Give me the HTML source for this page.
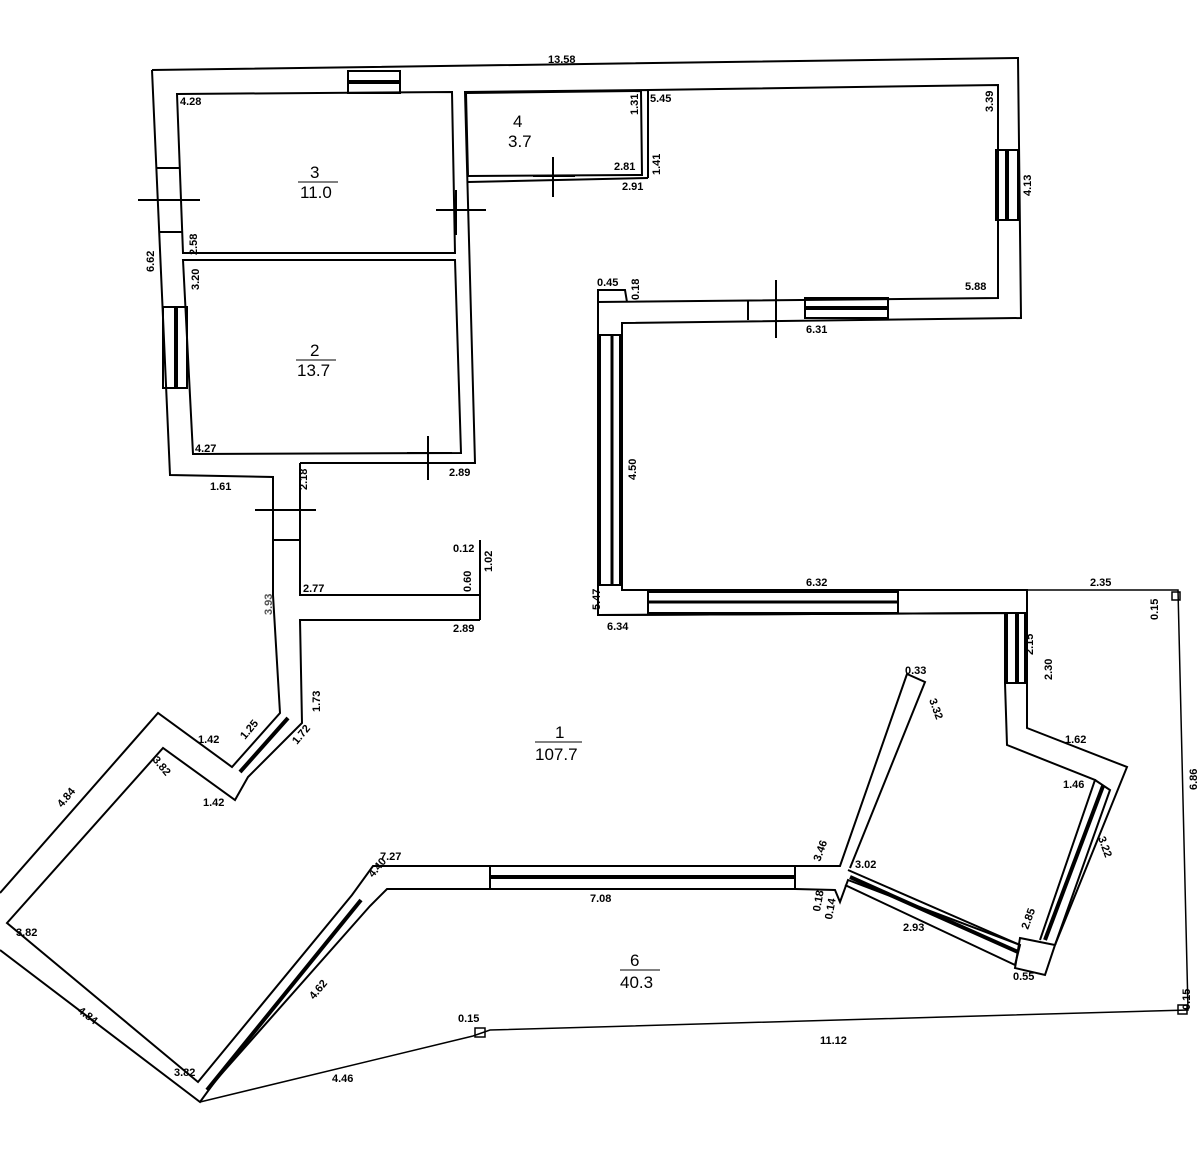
<!DOCTYPE html>
<html><head><meta charset="utf-8"><style>
html,body{margin:0;padding:0;background:#fff;}
svg{display:block}
text{font-family:"Liberation Sans",sans-serif;font-size:11px;font-weight:bold;fill:#000}
.b{font-size:17px;font-weight:normal}
</style></head><body>
<svg width="1200" height="1171" viewBox="0 0 1200 1171" xmlns="http://www.w3.org/2000/svg">
<g fill="none" stroke="#000" stroke-width="2">
<polyline points="300,463 475,463 465,92 648,90 648,178"/>
<polyline points="152,70 1018,58 1021,318 622,323 622,590 1027,590 1027,613 1027,683 1027,728 1127,767 1055,945"/>
<polyline points="152,70 170,475 273,477 273,595 280,713 232,767 158,713 0,893"/>
<polygon points="177,94 452,92 455,253 183,253"/>
<polygon points="183,260 455,260 461,453 193,454"/>
<polygon points="466,93 641,91 642,175 468,176"/>
<line x1="468" y1="182" x2="648" y2="178"/>
<polyline points="648,90 998,85 998,298 598,302 598,290 625,290 627,302"/>
<polyline points="598,290 598,615 1005,613 1005,683 1007,745 1095,780 1040,940"/>
<line x1="598" y1="615" x2="1027" y2="613"/>
<polyline points="300,463 300,595 480,595 480,540"/>
<polyline points="480,620 300,620 302,723 248,777 235,800 163,748 7,923 198,1082 352,895 373,866 490,866"/>
<line x1="480" y1="595" x2="480" y2="620"/>
<polyline points="0,950 200,1102 216,1080 370,906 387,889 490,889"/>
<polyline points="490,866 795,866 840,866 907,674 925,682 850,868"/>
<polyline points="490,889 795,889 835,890 840,902 848,880 1020,945 1015,965 845,885"/>
<polyline points="848,870 1020,945"/>
<polygon points="1020,938 1055,945 1045,975 1015,968"/>
<polyline points="1095,780 1110,790 1055,945"/>
<g stroke-width="1.5">
<polyline points="1027,590 1178,590 1188,1010 490,1030 473,1036 200,1102"/>
<rect x="475" y="1028" width="10" height="9"/>
<rect x="1172" y="592" width="8" height="8"/>
<rect x="1178" y="1005" width="9" height="9"/>
</g>
<rect x="348" y="71" width="52" height="22"/>
<line x1="348" y1="82" x2="400" y2="82" stroke-width="4"/>
<rect x="163" y="307" width="24" height="81"/>
<line x1="176" y1="307" x2="176" y2="388" stroke-width="4"/>
<line x1="157" y1="168" x2="180" y2="168"/><line x1="160" y1="232" x2="183" y2="232"/>
<rect x="805" y="298" width="83" height="20"/>
<line x1="805" y1="308" x2="888" y2="308" stroke-width="4"/>
<line x1="748" y1="300" x2="748" y2="320"/>
<rect x="996" y="150" width="22" height="70"/>
<line x1="1007" y1="150" x2="1007" y2="220" stroke-width="4"/>
<rect x="600" y="335" width="20" height="250"/>
<line x1="612" y1="335" x2="612" y2="585" stroke-width="3"/>
<rect x="648" y="592" width="250" height="21"/>
<line x1="648" y1="602" x2="898" y2="602" stroke-width="3"/>
<rect x="1007" y="613" width="18" height="70"/>
<line x1="1017" y1="613" x2="1017" y2="683" stroke-width="4"/>
<rect x="490" y="866" width="305" height="23"/>
<line x1="490" y1="877" x2="795" y2="877" stroke-width="4"/>
<line x1="240" y1="772" x2="288" y2="718" stroke-width="4"/>
<line x1="207" y1="1090" x2="361" y2="900" stroke-width="4"/>
<line x1="850" y1="877" x2="1018" y2="952" stroke-width="4"/>
<line x1="1045" y1="940" x2="1103" y2="786" stroke-width="4"/>
<line x1="456" y1="190" x2="456" y2="235"/>
<line x1="273" y1="540" x2="300" y2="540"/>
<line x1="407" y1="453" x2="452" y2="453"/>
<line x1="533" y1="176" x2="575" y2="176"/>
<line x1="138" y1="200" x2="200" y2="200"/>
<line x1="436" y1="210" x2="486" y2="210"/>
<line x1="553" y1="157" x2="553" y2="197"/>
<line x1="776" y1="280" x2="776" y2="338"/>
<line x1="428" y1="436" x2="428" y2="480"/>
<line x1="255" y1="510" x2="316" y2="510"/>
</g>
<text class="b" x="310" y="178">3</text><line x1="298" y1="182" x2="338" y2="182" stroke="#000"/><text class="b" x="300" y="198">11.0</text>
<text class="b" x="310" y="356">2</text><line x1="296" y1="360" x2="336" y2="360" stroke="#000"/><text class="b" x="297" y="376">13.7</text>
<text class="b" x="513" y="127">4</text><text class="b" x="508" y="147">3.7</text>
<text class="b" x="555" y="738">1</text><line x1="535" y1="742" x2="582" y2="742" stroke="#000"/><text class="b" x="535" y="760">107.7</text>
<text class="b" x="630" y="966">6</text><line x1="620" y1="970" x2="660" y2="970" stroke="#000"/><text class="b" x="620" y="988">40.3</text>
<text x="548" y="63">13.58</text><text x="180" y="105">4.28</text><text x="650" y="102">5.45</text>
<text x="614" y="170">2.81</text><text x="622" y="190">2.91</text><text x="965" y="290">5.88</text>
<text x="806" y="333">6.31</text><text x="597" y="286">0.45</text><text x="195" y="452">4.27</text>
<text x="449" y="476">2.89</text><text x="210" y="490">1.61</text><text x="303" y="592">2.77</text>
<text x="453" y="552">0.12</text><text x="453" y="632">2.89</text><text x="806" y="586">6.32</text>
<text x="607" y="630">6.34</text><text x="1090" y="586">2.35</text><text x="1065" y="743">1.62</text>
<text x="1063" y="788">1.46</text><text x="380" y="860">7.27</text><text x="590" y="902">7.08</text>
<text x="905" y="674">0.33</text><text x="855" y="868">3.02</text><text x="458" y="1022">0.15</text>
<text x="820" y="1044">11.12</text><text x="332" y="1082">4.46</text><text x="1013" y="980">0.55</text>
<text x="198" y="743">1.42</text><text x="203" y="806">1.42</text><text x="16" y="936">3.82</text><text x="174" y="1076">3.82</text>
<text x="903" y="931">2.93</text>
<g>
<text transform="translate(154,272) rotate(-90)">6.62</text>
<text transform="translate(197,255) rotate(-90)">2.58</text>
<text transform="translate(199,290) rotate(-90)">3.20</text>
<text transform="translate(638,115) rotate(-90)">1.31</text>
<text transform="translate(660,175) rotate(-90)">1.41</text>
<text transform="translate(993,112) rotate(-90)">3.39</text>
<text transform="translate(1031,196) rotate(-90)">4.13</text>
<text transform="translate(639,300) rotate(-90)">0.18</text>
<text transform="translate(636,480) rotate(-90)">4.50</text>
<text transform="translate(600,610) rotate(-90)">5.47</text>
<text transform="translate(307,490) rotate(-90)">2.18</text>
<text transform="translate(272,615) rotate(-90)" style="fill:#555">3.93</text>
<text transform="translate(471,592) rotate(-90)">0.60</text>
<text transform="translate(492,572) rotate(-90)">1.02</text>
<text transform="translate(320,712) rotate(-90)">1.73</text>
<text transform="translate(1033,655) rotate(-90)">2.15</text>
<text transform="translate(1052,680) rotate(-90)">2.30</text>
<text transform="translate(1197,790) rotate(-90)">6.86</text>
<text transform="translate(1158,620) rotate(-90)">0.15</text>
<text transform="translate(1190,1010) rotate(-90)">0.15</text>
<text transform="translate(929,700) rotate(70)">3.32</text>
<text transform="translate(1098,838) rotate(70)">3.22</text>
<text transform="translate(820,862) rotate(-70)">3.46</text>
<text transform="translate(373,878) rotate(-50)">4.40</text>
<text transform="translate(314,1000) rotate(-50)">4.62</text>
<text transform="translate(62,808) rotate(-50)">4.84</text>
<text transform="translate(152,760) rotate(50)">3.82</text>
<text transform="translate(77,1012) rotate(37)">4.84</text>
<text transform="translate(245,740) rotate(-50)">1.25</text>
<text transform="translate(297,745) rotate(-50)">1.72</text>
<text transform="translate(1028,930) rotate(-70)">2.85</text>
<text transform="translate(820,912) rotate(-80)">0.18</text>
<text transform="translate(832,920) rotate(-80)">0.14</text>
</g>
</svg>
</body></html>
